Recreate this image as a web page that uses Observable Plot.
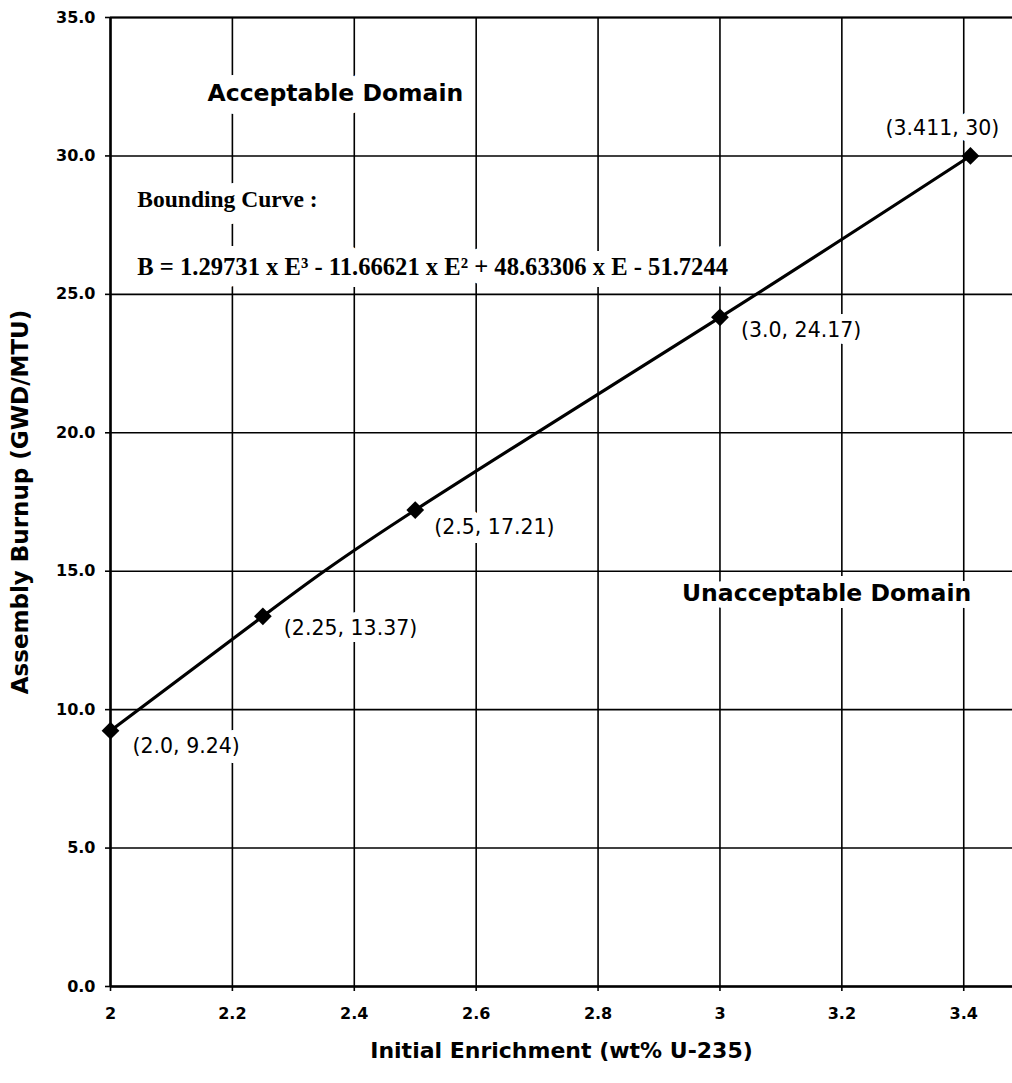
<!DOCTYPE html>
<html>
<head>
<meta charset="utf-8">
<script src="https://cdn.jsdelivr.net/npm/d3@7"></script>
<script src="https://cdn.jsdelivr.net/npm/@observablehq/plot@0.6"></script>
<style>
  html, body { margin: 0; padding: 0; background: #ffffff; }
  #chart svg { display: block; }
</style>
</head>
<body>
<div id="chart"></div>
<script>
// ---- data ----
const enrichment = [2.0, 2.25, 2.5, 3.0, 3.411];
const burnup = [9.24, 13.37, 17.21, 24.17, 30];
const pointLabels = ["(2.0, 9.24)", "(2.25, 13.37)", "(2.5, 17.21)", "(3.0, 24.17)", "(3.411, 30)"];
const xTicks = [2, 2.2, 2.4, 2.6, 2.8, 3, 3.2, 3.4];
const yTicks = [0, 5, 10, 15, 20, 25, 30, 35];
const xTitle = "Initial Enrichment (wt% U-235)";
const yTitle = "Assembly Burnup (GWD/MTU)";
const domainLabels = ["Acceptable Domain", "Unacceptable Domain"];
const domainLabelX = [2.369, 3.175];
const domainLabelY = [32.25, 14.2];
const equationLines = ["Bounding Curve :", "B = 1.29731 x E\u00B3 - 11.66621 x E\u00B2 + 48.63306 x E - 51.7244"];
const equationX = [2.044, 2.044];
const equationY = [28.43, 26.0];

// ---- layout (not data) ----
const labelOffsets = [
  {dx: 22, dy: 16, anchor: "start"},
  {dx: 21, dy: 12, anchor: "start"},
  {dx: 19, dy: 17, anchor: "start"},
  {dx: 21, dy: 13, anchor: "start"},
  {dx: -28, dy: -27, anchor: "middle"}
];
const domainHalo = [26, 14];
const equationFontSize = [23.5, 24.6];

const points = enrichment.map((e, i) => ({x: e, y: burnup[i], label: pointLabels[i], i}));
const domains = domainLabels.map((t, i) => ({t, x: domainLabelX[i], y: domainLabelY[i], i}));
const eqs = equationLines.map((t, i) => ({t, x: equationX[i], y: equationY[i], i}));

const SANS = "'DejaVu Sans', Arial, sans-serif";
const SERIF = "'Liberation Serif', 'Times New Roman', serif";

const labelMarks = points.map(p => Plot.text([p], {
  x: "x", y: "y", text: "label",
  dx: labelOffsets[p.i].dx, dy: labelOffsets[p.i].dy,
  textAnchor: labelOffsets[p.i].anchor,
  fontFamily: SANS, fontSize: 20.5, fill: "black",
  stroke: "white", strokeWidth: 14, strokeLinejoin: "round"
}));

const domainMarks = domains.map(d => Plot.text([d], {
  x: "x", y: "y", text: "t", fontFamily: SANS, fontSize: 23.5, fontWeight: "bold",
  fill: "black", stroke: "white", strokeWidth: domainHalo[d.i], strokeLinejoin: "round"
}));

const equationMarks = eqs.map(e => Plot.text([e], {
  x: "x", y: "y", text: "t", textAnchor: "start", fontFamily: SERIF,
  fontSize: equationFontSize[e.i], fontWeight: "bold",
  fill: "black", stroke: "white", strokeWidth: 24, strokeLinejoin: "round"
}));

const chart = Plot.plot({
  width: 1012,
  height: 1083,
  marginLeft: 110,
  marginRight: 0,
  marginTop: 17,
  marginBottom: 97,
  style: {fontFamily: SANS, background: "white", color: "black"},
  x: {domain: [2, 3.48]},
  y: {domain: [0, 35]},
  marks: [
    Plot.gridY(yTicks, {stroke: "black", strokeOpacity: 1, strokeWidth: 1.6}),
    Plot.gridX(xTicks, {stroke: "black", strokeOpacity: 1, strokeWidth: 1.6}),
    Plot.axisY(yTicks, {
      tickFormat: d => d.toFixed(1), tickSize: 5, tickPadding: 10,
      fontSize: 16, fontWeight: "bold", strokeWidth: 1.6, label: null
    }),
    Plot.axisX(xTicks, {
      tickFormat: d => String(+d.toFixed(1)), tickSize: 5, tickPadding: 16,
      fontSize: 16, fontWeight: "bold", strokeWidth: 1.6, label: null
    }),
    // annotations with white boxes (halo)
    ...domainMarks,
    ...equationMarks,
    ...labelMarks,
    // frame lines
    Plot.ruleX([2], {stroke: "black", strokeWidth: 2.5}),
    Plot.ruleY([0], {stroke: "black", strokeWidth: 2.5}),
    Plot.ruleY([35], {stroke: "black", strokeWidth: 2}),
    // bounding curve and points
    Plot.line(points, {x: "x", y: "y", curve: "natural", stroke: "black", strokeWidth: 3.2}),
    Plot.dot(points, {x: "x", y: "y", symbol: "diamond2", r: 8, fill: "black", stroke: "none"}),
    // axis titles
    Plot.text([yTitle], {
      frameAnchor: "left", dx: -90, rotate: -90, textAnchor: "middle", lineAnchor: "middle",
      fontFamily: SANS, fontSize: 23, fontWeight: "bold", fill: "black"
    }),
    Plot.text([xTitle], {
      frameAnchor: "bottom", dy: 64, textAnchor: "middle", lineAnchor: "middle",
      fontFamily: SANS, fontSize: 22, fontWeight: "bold", fill: "black"
    })
  ]
});

document.getElementById("chart").appendChild(chart);
</script>
</body>
</html>
